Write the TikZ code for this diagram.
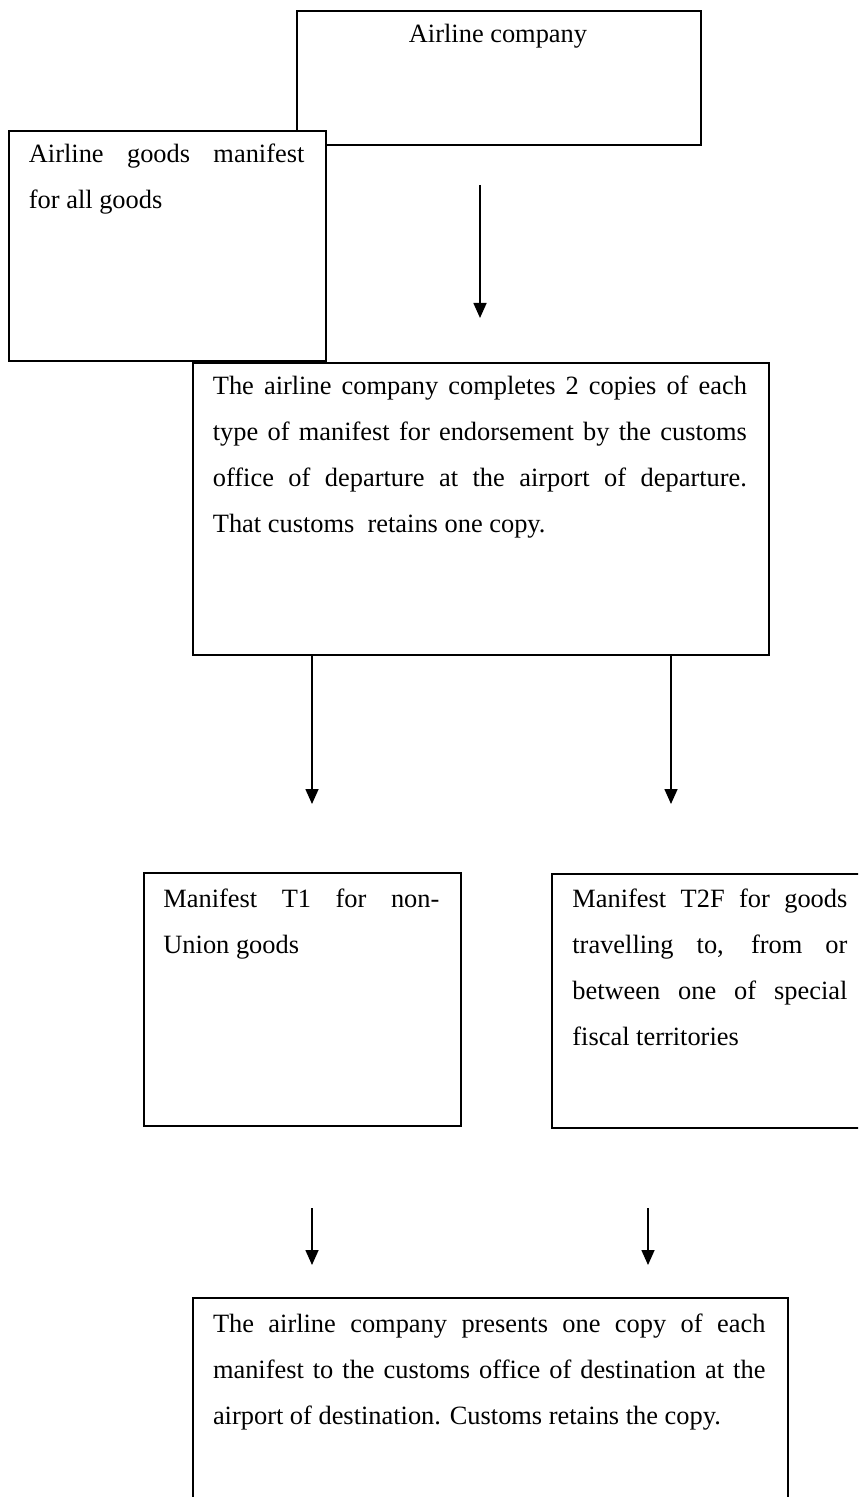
\documentclass[tikz,border=0pt]{standalone}
\usepackage{fontspec}
\setmainfont{Liberation Serif}
\usetikzlibrary{arrows.meta}
\begin{document}
\begin{tikzpicture}[x=0.5pt,y=-0.5pt,
  box/.style={draw, line width=0.9pt, fill=white, inner sep=0pt, anchor=north west},
  txt/.style={inner sep=0pt, anchor=base west, align=justify, font=\fontsize{13.2}{23}\selectfont},
  arr/.style={line width=0.8pt, -{Triangle[length=7.5pt,width=6.5pt]}}]
\clip (0,0) rectangle (858,1497);
% boxes
\node[box, minimum width=202pt, minimum height=67pt] (A) at (296,10) {};
\node[box, minimum width=158.5pt, minimum height=115pt] (B) at (8,130) {};
\node[box, minimum width=288pt, minimum height=146pt] (C) at (192,362) {};
\node[box, minimum width=158.5pt, minimum height=126.5pt] (D) at (143,872) {};
\node[box, minimum width=156pt, minimum height=127pt] (E) at (551,873) {};
\node[box, minimum width=297.5pt, minimum height=125pt] (F) at (192,1297) {};
% texts
\node[txt, anchor=base] (tA) at (498,43) {Airline company};
\node[txt, text width=137.75pt] (tB) at (28.5,163) {Airline goods manifest\linebreak for all goods};
\node[txt, text width=267pt] (tC) at (212.5,395) {The airline company completes 2 copies of each\linebreak type of manifest for endorsement by the customs\linebreak office of departure at the airport of departure.\linebreak That customs~ retains one copy.};
\node[txt, text width=138pt] (tD) at (163,907) {Manifest T1 for non-\linebreak Union goods};
\node[txt, text width=137.5pt] (tE) at (572,907) {Manifest T2F for goods\linebreak travelling to, from or\linebreak between one of special\linebreak fiscal territories};
\node[txt, text width=276.2pt] (tF) at (212.6,1332) {The airline company presents one copy of each\linebreak manifest to the customs office of destination at the\linebreak airport of destination. Customs retains the copy.};
% connectors
\coordinate (a1s) at (480,185);
\coordinate (a1e) at (480,318);
\coordinate (a2e) at (312,804);
\coordinate (a3e) at (671,804);
\coordinate (a4s) at (312,1208);
\coordinate (a4e) at (312,1265);
\coordinate (a5s) at (648,1208);
\coordinate (a5e) at (648,1265);
\draw[arr] (a1s) -- (a1e);
\draw[arr] (a2e |- C.south) -- (a2e);
\draw[arr] (a3e |- C.south) -- (a3e);
\draw[arr] (a4s) -- (a4e);
\draw[arr] (a5s) -- (a5e);
\end{tikzpicture}
\end{document}
